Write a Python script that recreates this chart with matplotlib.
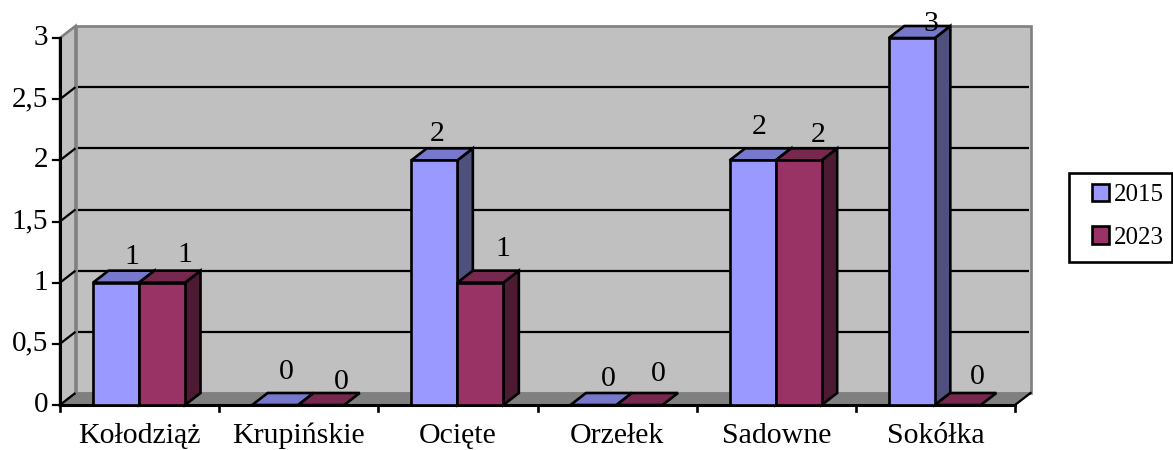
import matplotlib
matplotlib.use("Agg")
import matplotlib.pyplot as plt
from matplotlib.patches import Polygon, Patch, Rectangle

plt.rcParams['font.family'] = ['Liberation Serif', 'DejaVu Serif']

categories = ['Kołodziąż', 'Krupińskie', 'Ocięte', 'Orzełek', 'Sadowne', 'Sokółka']
values_2015 = [1, 0, 2, 0, 2, 3]
values_2023 = [1, 0, 1, 0, 2, 0]
y_ticks = [0, 0.5, 1, 1.5, 2, 2.5, 3]
y_tick_labels = ['0', '0,5', '1', '1,5', '2', '2,5', '3']

# hand placed data labels in the original, offsets in pixels from the bar centre / bar top
label_dx_2015 = [16, 11, 3, 15, 7, 19]
label_dy_2015 = [26, 33, 26, 26, 33, 14]
label_dx_2023 = [23, 20, 22, 19, 20, 19]
label_dy_2023 = [28, 23, 34, 31, 25, 28]

W, H = 1173, 450
LEFT, RIGHT, Y0, Y3 = 60, 1015, 405, 38
DEPTH_X, DEPTH_Y = 15.5, 12  # pixels
LW = 1.9
GRID_LW = 1.6

colors_2015 = ('#9999FF', '#7777CC', '#50507F')
colors_2023 = ('#993366', '#77284F', '#4D1A33')

fig = plt.figure(figsize=(W / 100, H / 100), dpi=100)
ax = fig.add_axes([LEFT / W, 1 - Y0 / H, (RIGHT - LEFT) / W, (Y0 - Y3) / H])
ax.set_xlim(0, len(categories))
ax.set_ylim(0, 3)
ax.axis('off')

# depth in data units
dx = DEPTH_X * len(categories) / (RIGHT - LEFT)
dy = DEPTH_Y * 3 / (Y0 - Y3)
n = len(categories)
px_x = n / (RIGHT - LEFT)
px_y = 3 / (Y0 - Y3)


def poly(points, face, edge='black', lw=LW, z=1):
    ax.add_patch(Polygon(points, closed=True, facecolor=face, edgecolor=edge,
                         linewidth=lw, joinstyle='miter', clip_on=False, zorder=z))


# walls and floor
poly([(dx, dy), (n + dx, dy), (n + dx, 3 + dy), (dx, 3 + dy)], '#C0C0C0', '#808080', LW)
poly([(0, 0), (dx, dy), (dx, 3 + dy), (0, 3)], '#C0C0C0', '#808080', LW)
poly([(0, 0), (n, 0), (n + dx, dy), (dx, dy)], '#808080', '#808080', 1.0)

for t in y_ticks[1:-1]:
    ax.plot([dx + 2 * px_x, n + dx - 2 * px_x], [t + dy, t + dy], color='black', lw=GRID_LW, clip_on=False, zorder=1.5, solid_capstyle='butt')
for t in y_ticks[:-1]:
    ax.plot([0, dx], [t, t + dy], color='black', lw=GRID_LW, clip_on=False, zorder=1.5, solid_capstyle='butt')
ax.plot([n, n + dx], [0, dy], color='black', lw=GRID_LW, clip_on=False, zorder=1.5)

# axes lines and ticks
ax.plot([0, 0], [0, 3], color='black', lw=2.2, clip_on=False, zorder=1.6)
ax.plot([0, n], [0, 0], color='black', lw=2.2, clip_on=False, zorder=1.6)
for t, lab in zip(y_ticks, y_tick_labels):
    ax.plot([-7 * px_x, 0], [t, t], color='black', lw=GRID_LW, clip_on=False, zorder=1.6)
    ax.text(-12 * px_x, t, lab, ha='right', va='center', fontsize=21, clip_on=False)
for i in range(n + 1):
    ax.plot([i, i], [0, -6 * px_y], color='black', lw=LW, clip_on=False, zorder=1.6)
for i, c in enumerate(categories):
    ax.text(i + 0.5, -31 * px_y, c, ha='center', va='center', fontsize=21.5)

# bars
gap = 33 * px_x
bw = 46 * px_x


def bar(x, v, colors, z):
    side = [(x + bw, 0), (x + bw + dx, dy), (x + bw + dx, v + dy), (x + bw, v)]
    top = [(x, v), (x + dx, v + dy), (x + bw + dx, v + dy), (x + bw, v)]
    if v > 0:
        poly(side, colors[2], z=z)
    poly(top, colors[1], z=z)
    if v > 0:
        poly([(x, 0), (x + bw, 0), (x + bw, v), (x, v)], colors[0], z=z)


for i in range(n):
    bar(i + gap, values_2015[i], colors_2015, 2 + i * 0.1)
    bar(i + gap + bw, values_2023[i], colors_2023, 2.05 + i * 0.1)

# data labels
for i in range(n):
    ax.text(i + gap + bw / 2 + label_dx_2015[i] * px_x, values_2015[i] + label_dy_2015[i] * px_y,
            str(values_2015[i]), ha='center', va='center', fontsize=21.5, zorder=5, clip_on=False)
    ax.text(i + gap + 1.5 * bw + label_dx_2023[i] * px_x, values_2023[i] + label_dy_2023[i] * px_y,
            str(values_2023[i]), ha='center', va='center', fontsize=21.5, zorder=5, clip_on=False)

# legend box runs up to the picture edge
fig.add_artist(Rectangle((1069 / W, 1 - 262 / H), 103 / W, 89 / H, transform=fig.transFigure,
                         facecolor='white', edgecolor='black', linewidth=LW))
handles = [Patch(facecolor=colors_2015[0], edgecolor='black', linewidth=LW, label='2015'),
           Patch(facecolor=colors_2023[0], edgecolor='black', linewidth=LW, label='2023')]
leg = fig.legend(handles=handles, loc='upper left', bbox_to_anchor=(1092 / W, 1 - 184 / H),
                 frameon=False, fontsize=18, handlelength=0.68, handleheight=0.68, handletextpad=0.2,
                 labelspacing=0.8, borderpad=0, borderaxespad=0)
leg.set_zorder(5)

fig.savefig('out.png', dpi=100)
